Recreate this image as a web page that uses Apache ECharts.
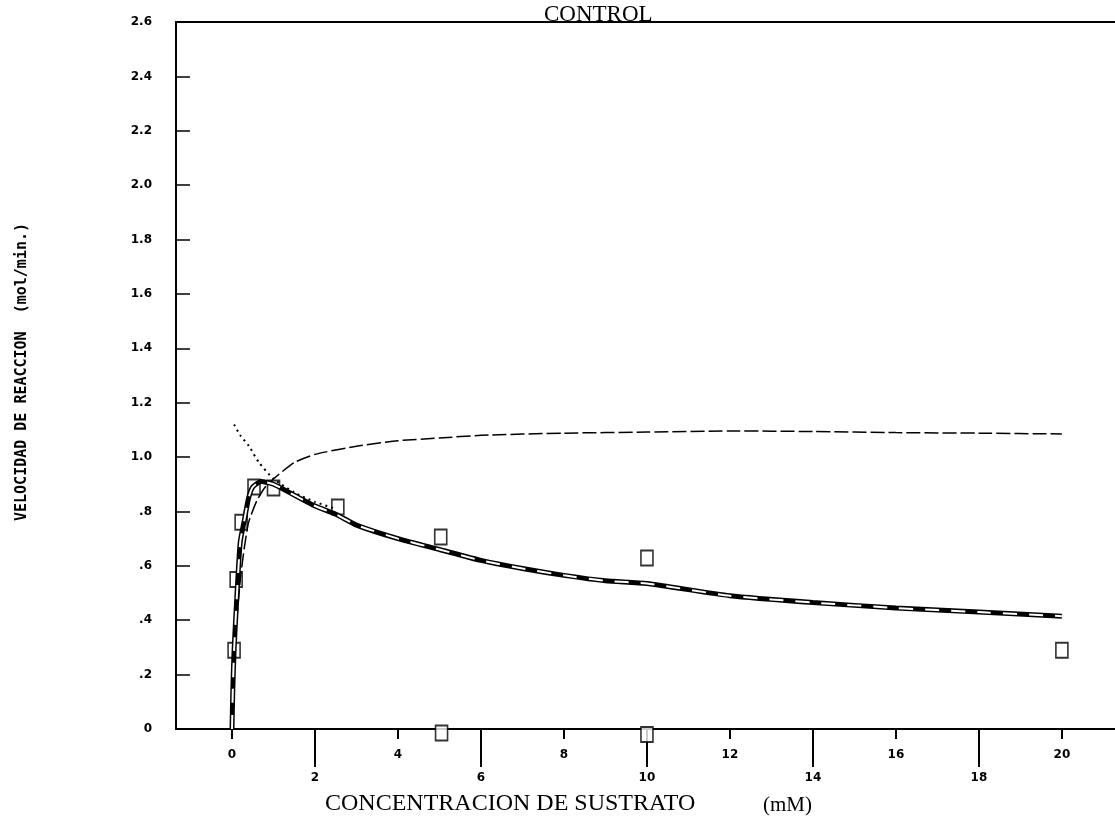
<!DOCTYPE html>
<html>
<head>
<meta charset="utf-8">
<script src="https://cdn.jsdelivr.net/npm/echarts@6/dist/echarts.min.js"></script>
<style>
  html, body { margin: 0; padding: 0; background: #fff; }
  #main { width: 1115px; height: 835px; }
</style>
</head>
<body>
<div id="main"></div>
<script>
// ticks
var xTicksUpper = [0, 4, 8, 12, 16, 20];
var xTicksLower = [2, 6, 10, 14, 18];
var yTickLabels = ['0', '.2', '.4', '.6', '.8', '1.0', '1.2', '1.4', '1.6', '1.8', '2.0', '2.2', '2.4', '2.6'];

// measured points (squares)
var puntos = [
    [0.05, 0.29], [0.1, 0.55], [0.22, 0.76], [0.53, 0.89], [1.0, 0.886],
    [2.55, 0.816], [5.03, 0.706], [10, 0.629], [20, 0.29],
    [5.05, -0.015], [10, -0.02]
];

// saturating fit (michaelis)
var curvaMM = [
    [0, 0], [0.05, 0.22], [0.1, 0.37], [0.2, 0.55], [0.3, 0.67], [0.4, 0.76],
    [0.6, 0.84], [0.8, 0.89], [1.0, 0.92], [1.5, 0.98], [2, 1.01], [3, 1.04],
    [4, 1.06], [5, 1.07], [6, 1.08], [8, 1.088], [10, 1.092], [12, 1.096],
    [14, 1.094], [16, 1.09], [18, 1.088], [20, 1.085]
];

// fit with substrate inhibition
var curvaInhib = [
    [0, 0], [0.02, 0.15], [0.05, 0.29], [0.1, 0.44], [0.15, 0.58], [0.2, 0.69],
    [0.3, 0.77], [0.4, 0.85], [0.5, 0.89], [0.7, 0.91], [1.0, 0.90], [1.5, 0.86],
    [2, 0.82], [2.5, 0.79], [3, 0.75], [4, 0.70], [5, 0.66], [6, 0.62], [7, 0.59],
    [8, 0.565], [9, 0.545], [10, 0.535], [12, 0.49], [14, 0.465], [16, 0.445],
    [18, 0.43], [20, 0.415]
];

// dotted extrapolation
var curvaPunteada = [
    [0.05, 1.12], [0.2, 1.08], [0.41, 1.04], [0.65, 0.98], [1.0, 0.92],
    [1.5, 0.87], [2, 0.835], [2.5, 0.81]
];

var XMIN = -1.35, XMAX = 21.28;
var lblFont = { color: '#000', fontSize: 12, fontWeight: 'bold', fontFamily: 'DejaVu Sans' };

var myChart = echarts.init(document.getElementById('main'));
var option = {
    backgroundColor: '#fff',
    animation: false,
    title: [
        {
            text: 'CONTROL', left: 539, top: -2,
            textStyle: { fontFamily: 'Liberation Serif', fontSize: 23, fontWeight: 'normal', color: '#000' }
        },
        {
            text: 'CONCENTRACION DE SUSTRATO', left: 320, top: 787,
            textStyle: { fontFamily: 'Liberation Serif', fontSize: 24, fontWeight: 'normal', color: '#000' }
        },
        {
            text: '(mM)', left: 758, top: 790,
            textStyle: { fontFamily: 'Liberation Serif', fontSize: 21, fontWeight: 'normal', color: '#000' }
        }
    ],
    graphic: [
        {
            type: 'text', x: 22, y: 372, rotation: Math.PI / 2,
            style: {
                text: 'VELOCIDAD DE REACCION  (mol/min.)',
                fontFamily: 'DejaVu Sans Mono', fontSize: 15, fontWeight: 'bold',
                fill: '#000', align: 'center', verticalAlign: 'middle'
            }
        }
    ],
    grid: { left: 176, right: 0, top: 22, bottom: 106, containLabel: false },
    xAxis: [
        {
            type: 'value', position: 'bottom', min: XMIN, max: XMAX,
            axisLine: { show: true, onZero: false, lineStyle: { color: '#000', width: 2 } },
            axisTick: { show: true, customValues: xTicksUpper, length: 10, lineStyle: { color: '#000', width: 2 } },
            axisLabel: Object.assign({ customValues: xTicksUpper, margin: 20 }, lblFont),
            splitLine: { show: false }
        },
        {
            type: 'value', position: 'bottom', min: XMIN, max: XMAX,
            axisLine: { show: false, onZero: false },
            axisTick: { show: true, customValues: xTicksLower, length: 38, lineStyle: { color: '#000', width: 2 } },
            axisLabel: Object.assign({ customValues: xTicksLower, margin: 43 }, lblFont),
            splitLine: { show: false }
        },
        {
            type: 'value', position: 'top', min: XMIN, max: XMAX,
            axisLine: { show: true, onZero: false, lineStyle: { color: '#000', width: 2 } },
            axisTick: { show: false }, axisLabel: { show: false }, splitLine: { show: false }
        }
    ],
    yAxis: {
        type: 'value', min: 0, max: 2.6, interval: 0.2,
        axisLine: { show: true, onZero: false, lineStyle: { color: '#000', width: 2 } },
        axisTick: { show: true, inside: true, length: 14, lineStyle: { color: '#000', width: 1.5 } },
        axisLabel: Object.assign({
            margin: 24,
            formatter: function (v) { return yTickLabels[Math.round(v / 0.2)]; }
        }, lblFont),
        splitLine: { show: false }
    },
    series: [
        {
            name: 'MM', type: 'line', data: curvaMM, showSymbol: false, smooth: 0.2,
            lineStyle: { color: '#000', width: 1.5, type: [14, 4] }
        },
        {
            name: 'punteada', type: 'line', data: curvaPunteada, showSymbol: false, smooth: 0.2,
            lineStyle: { color: '#000', width: 2, type: [2, 4] }
        },
        {
            name: 'inhib', type: 'line', data: curvaInhib, showSymbol: false, smooth: 0.2,
            lineStyle: { color: '#000', width: 5 }
        },
        {
            name: 'inhib2', type: 'line', data: curvaInhib, showSymbol: false, smooth: 0.2,
            lineStyle: { color: '#fff', width: 2, type: [14, 12] }
        },
        {
            name: 'datos', type: 'scatter', data: puntos, clip: false,
            symbol: 'rect', symbolSize: [12, 15],
            itemStyle: { color: '#fff', borderColor: '#000', borderWidth: 1.8 }
        }
    ]
};
myChart.setOption(option);
</script>
</body>
</html>
